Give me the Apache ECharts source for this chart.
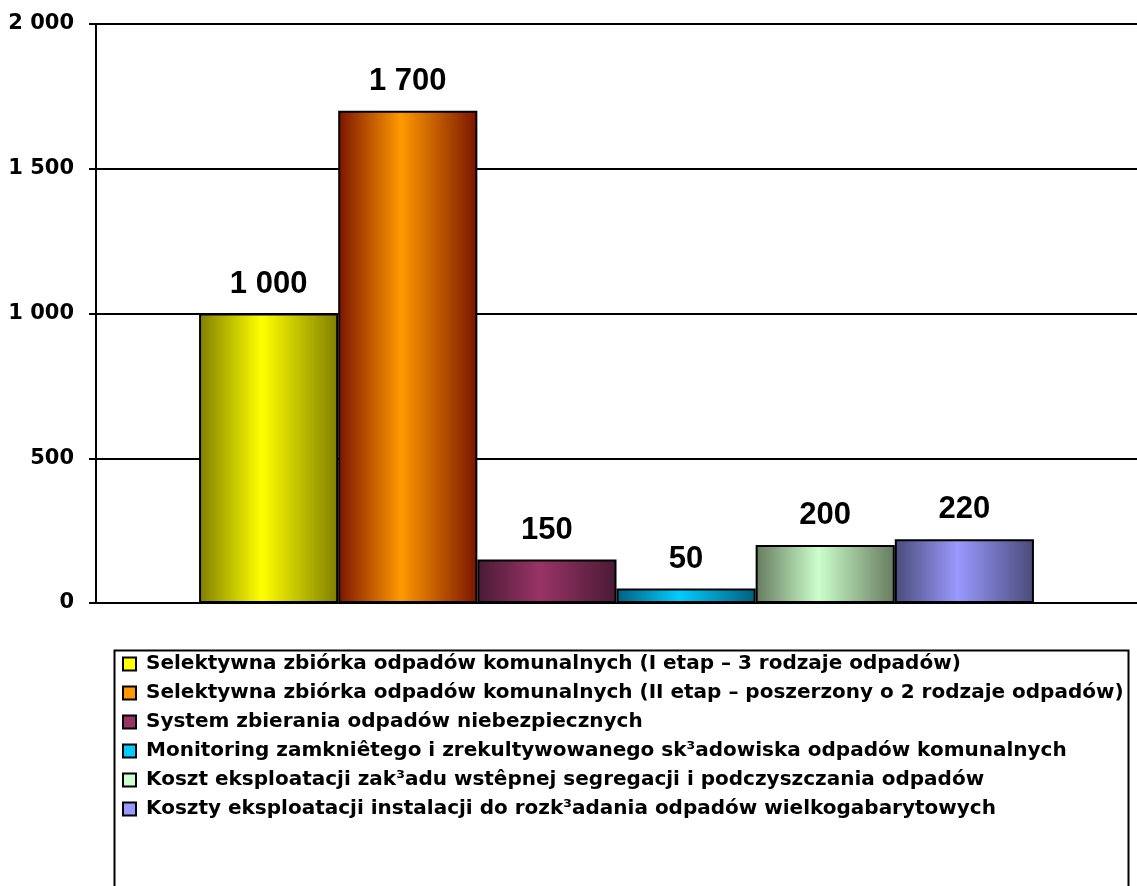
<!DOCTYPE html>
<html>
<head>
<meta charset="utf-8">
<title>Koszty gospodarki odpadami</title>
<script src="https://cdn.jsdelivr.net/npm/echarts@6/dist/echarts.min.js"></script>
<style>
  html, body { margin: 0; padding: 0; background: #fff; }
  #chart { width: 1137px; height: 886px; }
</style>
</head>
<body>
<div id="chart"></div>
<script>
// dane
const seriesNames = [
  'Selektywna zbiórka odpadów komunalnych (I etap – 3 rodzaje odpadów)',
  'Selektywna zbiórka odpadów komunalnych (II etap – poszerzony o 2 rodzaje odpadów)',
  'System zbierania odpadów niebezpiecznych',
  'Monitoring zamkniêtego i zrekultywowanego sk³adowiska odpadów komunalnych',
  'Koszt eksploatacji zak³adu wstêpnej segregacji i podczyszczania odpadów',
  'Koszty eksploatacji instalacji do rozk³adania odpadów wielkogabarytowych'
]
const seriesValues = [1000, 1700, 150, 50, 200, 220]
const yTicks = [0, 500, 1000, 1500, 2000]

// kolory: krawedz (ciemny) i srodek (jasny)
const edgeColors = ['#7f7f00', '#7a1400', '#4a1a35', '#006080', '#667a5e', '#4a4a7a']
const midColors = ['#ffff00', '#ff9900', '#993366', '#00ccff', '#ccffcc', '#9999ff']

const FONT = 'Arial, "Liberation Sans", sans-serif'
const WIDE = '"DejaVu Sans", Verdana, sans-serif'
const fmt = v => String(v).replace(/\B(?=(\d{3})+(?!\d))/g, ' ')

const chart = echarts.init(document.getElementById('chart'))

const series = seriesNames.map((name, i) => ({
  name: name,
  type: 'bar',
  data: [seriesValues[i]],
  barGap: '0%',
  barCategoryGap: '19.8%',
  itemStyle: {
    color: new echarts.graphic.LinearGradient(0, 0, 1, 0, [
      { offset: 0, color: edgeColors[i] },
      { offset: 0.45, color: midColors[i] },
      { offset: 1, color: edgeColors[i] }
    ]),
    borderColor: '#000',
    borderWidth: 2
  },
  label: {
    show: true,
    position: 'top',
    distance: 14,
    formatter: p => fmt(p.value),
    color: '#000',
    fontFamily: FONT,
    fontWeight: 'bold',
    fontSize: 31
  },
  emphasis: { disabled: true }
}))

chart.setOption({
  backgroundColor: '#fff',
  animation: false,
  grid: { left: 96, right: -7, top: 24, bottom: 283, containLabel: false },
  xAxis: {
    type: 'category',
    data: [''],
    axisLine: { lineStyle: { color: '#000', width: 2 } },
    axisTick: { show: false },
    axisLabel: { show: false }
  },
  yAxis: {
    type: 'value',
    min: yTicks[0],
    max: yTicks[yTicks.length - 1],
    interval: 500,
    axisLine: { show: true, lineStyle: { color: '#000', width: 2 } },
    axisTick: { show: true, length: 7, lineStyle: { color: '#000', width: 2 } },
    axisLabel: {
      margin: 22,
      color: '#000',
      fontFamily: WIDE,
      fontWeight: 'bold',
      fontSize: 21,
      formatter: v => fmt(v)
    },
    splitLine: { show: true, lineStyle: { color: '#000', width: 2 } }
  },
  legend: {
    orient: 'vertical',
    left: 112,
    top: 654,
    padding: [0, 0, 0, 10],
    itemWidth: 13,
    itemHeight: 13,
    itemGap: 9,
    icon: 'rect',
    selectedMode: false,
    textStyle: {
      color: '#000',
      fontFamily: WIDE,
      fontWeight: 'bold',
      fontSize: 20,
      lineHeight: 20,
      padding: [0, 0, 0, 5]
    },
    data: seriesNames.map((n, i) => ({
      name: n,
      itemStyle: { color: midColors[i], borderColor: '#000', borderWidth: 2 }
    }))
  },
  graphic: [{
    type: 'rect',
    left: 112,
    top: 648,
    shape: { width: 1014, height: 260 },
    style: { fill: null, stroke: '#000', lineWidth: 2 },
    z: -1
  }],
  series: series
})
</script>
</body>
</html>
